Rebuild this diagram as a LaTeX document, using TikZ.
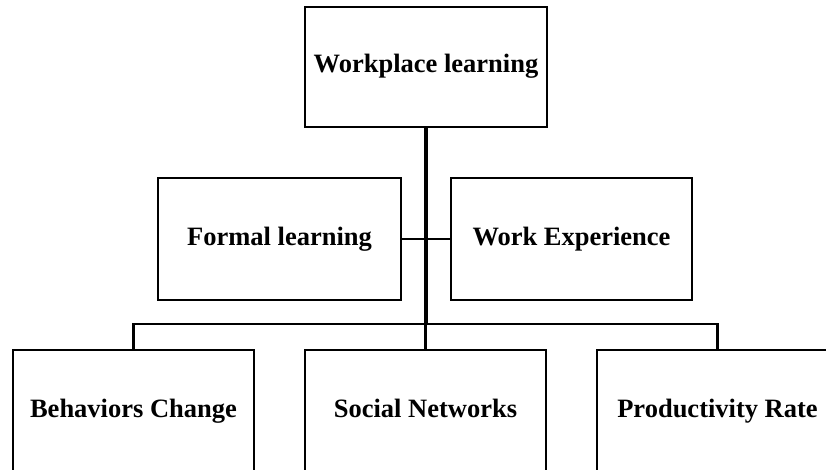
\documentclass[tikz,border=0pt]{standalone}
\usepackage{fontspec}
\setmainfont{Liberation Serif}
\begin{document}
\begin{tikzpicture}[x=1pt,y=-1pt,
  box/.style={draw=black,line width=2.6pt,rectangle,inner sep=0pt,
    text height=18pt,text depth=6pt,
    font=\fontsize{26.5}{30}\selectfont\bfseries,align=center},
  conn/.style={draw=black,line width=2.2pt},
  trunk/.style={draw=black,line width=3.2pt}]
\useasboundingbox (0,0) rectangle (826,470);
\clip (0,0) rectangle (826,470);
\node[box,minimum width=242pt,minimum height=120pt] (top) at (426,67) {Workplace learning};
\node[box,minimum width=243pt,minimum height=122pt] (formal) at (279.5,239) {Formal learning};
\node[box,minimum width=241pt,minimum height=122pt] (work) at (571.5,239) {Work Experience};
\node[box,minimum width=241pt,minimum height=122pt] (beh) at (133.5,411) {Behaviors Change};
\node[box,minimum width=241pt,minimum height=122pt] (soc) at (425.5,411) {Social Networks};
\node[box,minimum width=241pt,minimum height=122pt] (prod) at (717.5,411) {Productivity Rate};
\coordinate (bar) at (426,324);
\draw[conn] (formal.east) -- (work.west);
\draw[trunk] (top.south) -- (top.south |- bar);
\draw[conn] (beh.north) |- (bar) -| (prod.north);
\draw[conn] (soc.north) -- (soc.north |- bar);
\end{tikzpicture}
\end{document}
